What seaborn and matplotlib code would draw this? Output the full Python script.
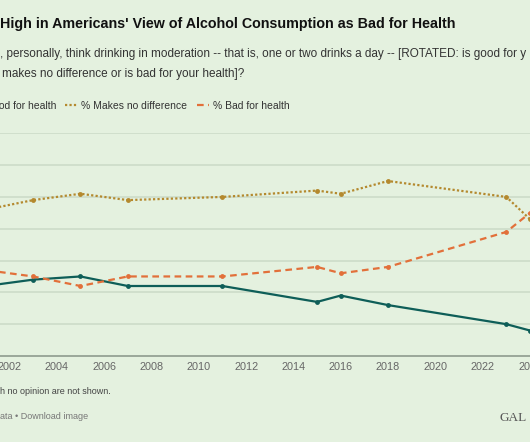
import matplotlib
matplotlib.use("Agg")
import matplotlib.pyplot as plt
from matplotlib.lines import Line2D
import pandas as pd
import seaborn as sns

# Survey years and shares (%)
years = [2001, 2003, 2005, 2007, 2011, 2015, 2016, 2018, 2023, 2024]
good_for_health = [22, 24, 25, 22, 22, 17, 19, 16, 10, 8]
no_difference = [46, 49, 51, 49, 50, 52, 51, 55, 50, 43]
bad_for_health = [27, 25, 22, 25, 25, 28, 26, 28, 39, 45]

series_labels = ["% Good for health", "% Makes no difference", "% Bad for health"]
x_ticks = list(range(2002, 2025, 2))
y_ticks = list(range(0, 80, 10))

BG = "#e4f1df"
TEAL = "#0e5e58"
GOLD = "#b4892e"
ORANGE = "#e2703a"

sns.set_theme(style="white", rc={"figure.facecolor": BG, "axes.facecolor": BG})
plt.rcParams["font.family"] = ["Liberation Sans", "DejaVu Sans"]

df = pd.DataFrame({
    "year": years,
    series_labels[0]: good_for_health,
    series_labels[1]: no_difference,
    series_labels[2]: bad_for_health,
})

fig = plt.figure(figsize=(5.3, 4.42), dpi=100)
ax = fig.add_axes([0, 0.1946, 1, 0.5038])

styles = {
    series_labels[0]: dict(color=TEAL, linestyle="-"),
    series_labels[1]: dict(color=GOLD, linestyle=(0, (1, 1))),
    series_labels[2]: dict(color=ORANGE, linestyle=(0, (3, 2))),
}
for lab in series_labels:
    sns.lineplot(data=df, x="year", y=lab, ax=ax, linewidth=1.6,
                 marker="o", markersize=3.5, markeredgewidth=0, **styles[lab])

ax.set_xlim(2001.6, 2024.0)
ax.set_ylim(0, 70)
ax.set_xticks(x_ticks)
ax.set_yticks(y_ticks)
ax.set_xlabel("")
ax.set_ylabel("")
ax.tick_params(axis="x", length=0, pad=4.5, labelsize=7.8, labelcolor="#666666")
ax.tick_params(axis="y", length=0, labelleft=False)
ax.grid(axis="y", color="#cddcc9", linewidth=1.2)
ax.grid(axis="x", visible=False)
for side in ["left", "right", "top"]:
    ax.spines[side].set_visible(False)
ax.spines["bottom"].set_color("#9ba89a")
ax.spines["bottom"].set_linewidth(1.4)

# legend, shifted left the way the picture is cropped
handles = [Line2D([], [], linewidth=1.6, **styles[lab]) for lab in series_labels]
fig.legend(handles, series_labels, loc="center left", bbox_to_anchor=(-0.092, 0.760),
           ncol=3, frameon=False, fontsize=7.5, handlelength=1.2,
           handletextpad=0.35, columnspacing=0.9, borderpad=0, labelcolor="#333333")

# titles and notes
fig.text(0.0, 0.9373, "High in Americans' View of Alcohol Consumption as Bad for Health",
         fontsize=10.3, fontweight="bold", color="#111111", va="baseline")
fig.text(0.0, 0.8717, ", personally, think drinking in moderation -- that is, one or two drinks a day -- [ROTATED: is good for y",
         fontsize=8.5, color="#333333", va="baseline")
fig.text(0.004, 0.8258, "makes no difference or is bad for your health]?",
         fontsize=8.5, color="#333333", va="baseline")
fig.text(0.0, 0.108, "h no opinion are not shown.", fontsize=6.5, color="#444444", va="baseline")
fig.text(0.0, 0.0513, "ata \u2022 Download image", fontsize=6.5, color="#777777", va="baseline")
fig.text(0.943, 0.048, "GAL", fontsize=9.5, color="#555555", va="baseline",
         family=["Liberation Serif", "DejaVu Serif"])

fig.savefig("out.png", dpi=100, facecolor=BG)
